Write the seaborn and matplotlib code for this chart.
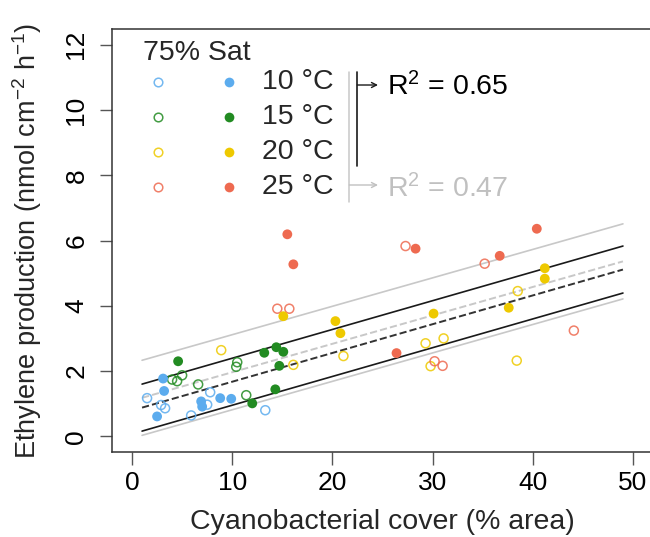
import numpy as np
import pandas as pd
import matplotlib
matplotlib.use("Agg")
import matplotlib.pyplot as plt
import seaborn as sns

sns.set_style("ticks")
plt.rcParams['font.family'] = ['Liberation Sans', 'DejaVu Sans']
plt.rcParams['mathtext.fontset'] = 'custom'
plt.rcParams['mathtext.rm'] = 'Liberation Sans'
plt.rcParams['mathtext.it'] = 'Liberation Sans:italic'
plt.rcParams['mathtext.bf'] = 'Liberation Sans:bold'

# temperature groups and their colours
temps = ['10 °C', '15 °C', '20 °C', '25 °C']
temp_colors = ['#5CACEE', '#228B22', '#EEC900', '#EE6A50']

# open circles (cover %, ethylene)
open_x_10 = [1.5, 2.9, 3.3, 5.9, 7.8, 7.5, 13.3]
open_y_10 = [1.17, 0.96, 0.86, 0.64, 1.35, 0.97, 0.80]
open_x_15 = [4.0, 4.5, 5.0, 6.6, 10.5, 10.4, 11.4]
open_y_15 = [1.74, 1.69, 1.87, 1.59, 2.27, 2.13, 1.26]
open_x_20 = [8.9, 16.1, 21.1, 29.3, 31.1, 29.8, 38.5, 38.4]
open_y_20 = [2.64, 2.19, 2.46, 2.85, 3.00, 2.15, 4.45, 2.32]
open_x_25 = [14.5, 15.7, 27.3, 35.2, 44.1, 30.2, 31.0]
open_y_25 = [3.91, 3.91, 5.83, 5.29, 3.24, 2.30, 2.16]

# filled circles
fill_x_10 = [3.1, 3.2, 2.5, 6.9, 7.0, 8.8, 9.9]
fill_y_10 = [1.77, 1.39, 0.61, 1.07, 0.91, 1.17, 1.15]
fill_x_15 = [4.6, 13.2, 14.4, 15.1, 14.7, 14.3, 12.0]
fill_y_15 = [2.30, 2.56, 2.73, 2.59, 2.16, 1.44, 1.01]
fill_x_20 = [15.1, 20.3, 20.8, 30.1, 37.6, 41.2, 41.2]
fill_y_20 = [3.68, 3.53, 3.16, 3.76, 3.94, 5.15, 4.83]
fill_x_25 = [15.5, 16.1, 28.3, 36.7, 40.4, 26.4]
fill_y_25 = [6.19, 5.27, 5.75, 5.53, 6.36, 2.55]

# fitted lines (endpoints) and band half-widths
fit_x = [1, 49]
fit_black = [0.88, 5.11]
band_black = 0.72
fit_gray = [1.18, 5.36]
band_gray = 1.15
r2_black = 0.65
r2_gray = 0.47

open_x = [open_x_10, open_x_15, open_x_20, open_x_25]
open_y = [open_y_10, open_y_15, open_y_20, open_y_25]
fill_x = [fill_x_10, fill_x_15, fill_x_20, fill_x_25]
fill_y = [fill_y_10, fill_y_15, fill_y_20, fill_y_25]

rows = []
for t, xs, ys in zip(temps, open_x, open_y):
    for a, b in zip(xs, ys):
        rows.append((a, b, t, 'open'))
for t, xs, ys in zip(temps, fill_x, fill_y):
    for a, b in zip(xs, ys):
        rows.append((a, b, t, 'filled'))
df = pd.DataFrame(rows, columns=['cover', 'ethylene', 'temp', 'fill'])

fig = plt.figure(figsize=(6.5, 5.37), dpi=100)
ax = fig.add_axes([112 / 650, 85 / 537, 541 / 650, 423 / 537])

fx = np.array(fit_x)
# gray (open) fit
sns.lineplot(x=fx, y=np.array(fit_gray), ax=ax, color='#c8c8c8', lw=1.4, dashes=(3.5, 2.5), linestyle='--')
sns.lineplot(x=fx, y=np.array(fit_gray) + band_gray, ax=ax, color='#c8c8c8', lw=1.2)
sns.lineplot(x=fx, y=np.array(fit_gray) - band_gray, ax=ax, color='#c8c8c8', lw=1.2)
# black (filled) fit
sns.lineplot(x=fx, y=np.array(fit_black), ax=ax, color='#333333', lw=1.4, dashes=(3.5, 2.5), linestyle='--')
sns.lineplot(x=fx, y=np.array(fit_black) + band_black, ax=ax, color='#1a1a1a', lw=1.2)
sns.lineplot(x=fx, y=np.array(fit_black) - band_black, ax=ax, color='#1a1a1a', lw=1.2)

for t, c in zip(temps, temp_colors):
    sub = df[(df.temp == t) & (df.fill == 'open')]
    sns.scatterplot(data=sub, x='cover', y='ethylene', ax=ax, color=c, facecolor='none',
                    edgecolor=c, linewidth=1.1, s=42, alpha=0.85, legend=False, zorder=3)
filled = df[df.fill == 'filled']
sns.scatterplot(data=filled, x='cover', y='ethylene', hue='temp', hue_order=temps,
                palette=dict(zip(temps, temp_colors)), ax=ax, s=50, edgecolor='none',
                legend=False, zorder=4)

ax.set_xlim(-2, 52)
ax.set_ylim(-0.48, 12.48)
ax.set_xticks(range(0, 51, 10))
ax.set_yticks(range(0, 13, 2))
ax.tick_params(axis='both', length=9, width=1, color='#555555', labelsize=19, labelcolor='black')
ax.tick_params(axis='x', pad=5)
ax.tick_params(axis='y', pad=8)
plt.setp(ax.get_yticklabels(), rotation=90, va='center')
for s in ['left', 'top', 'bottom']:
    ax.spines[s].set_color('#333333')
    ax.spines[s].set_linewidth(1.1)
ax.spines['right'].set_visible(False)

ax.set_xlabel('Cyanobacterial cover (% area)', fontsize=20.5)
ax.set_ylabel('Ethylene production (nmol cm$^{-2}$ h$^{-1}$)', fontsize=19.5)
ax.xaxis.set_label_coords(0.5, -0.135)
ax.yaxis.set_label_coords(-0.125, 0.5)

# legend block
ax.text(0.0567, 0.9444, '75% Sat', transform=ax.transAxes, fontsize=20.5, va='center', ha='left')
row_y = [0.8747, 0.7920, 0.7092, 0.6265]
for t, c, ry in zip(temps, temp_colors, row_y):
    ax.plot([0.0856], [ry], 'o', transform=ax.transAxes, ms=6.2, mfc='none', mec=c, mew=1.1,
            alpha=0.85, clip_on=False)
    ax.plot([0.2163], [ry], 'o', transform=ax.transAxes, ms=7, mfc=c, mec='none', clip_on=False)
    ax.text(0.2767, ry, t, transform=ax.transAxes, fontsize=20.5, va='center', ha='left')

# R2 brackets
ax.plot([0.4386, 0.4386], [0.8983, 0.5910], transform=ax.transAxes, color='#c8c8c8', lw=1.1)
ax.annotate('', xy=(0.4917, 0.6312), xytext=(0.4386, 0.6312), xycoords='axes fraction',
            arrowprops=dict(arrowstyle='->', color='#c0c0c0', lw=1, shrinkA=0, shrinkB=0,
                            mutation_scale=9))
ax.plot([0.4534, 0.4534], [0.8983, 0.6761], transform=ax.transAxes, color='#1a1a1a', lw=1.2)
ax.annotate('', xy=(0.4917, 0.8676), xytext=(0.4534, 0.8676), xycoords='axes fraction',
            arrowprops=dict(arrowstyle='->', color='#1a1a1a', lw=1, shrinkA=0, shrinkB=0,
                            mutation_scale=9))
ax.text(0.5078, 0.844, 'R$^{2}$ = %.2f' % r2_black, transform=ax.transAxes, fontsize=20.5,
        va='baseline', ha='left', color='black')
ax.text(0.5078, 0.6028, 'R$^{2}$ = %.2f' % r2_gray, transform=ax.transAxes, fontsize=20.5,
        va='baseline', ha='left', color='#c0c0c0')

fig.savefig('out.png', dpi=100)
